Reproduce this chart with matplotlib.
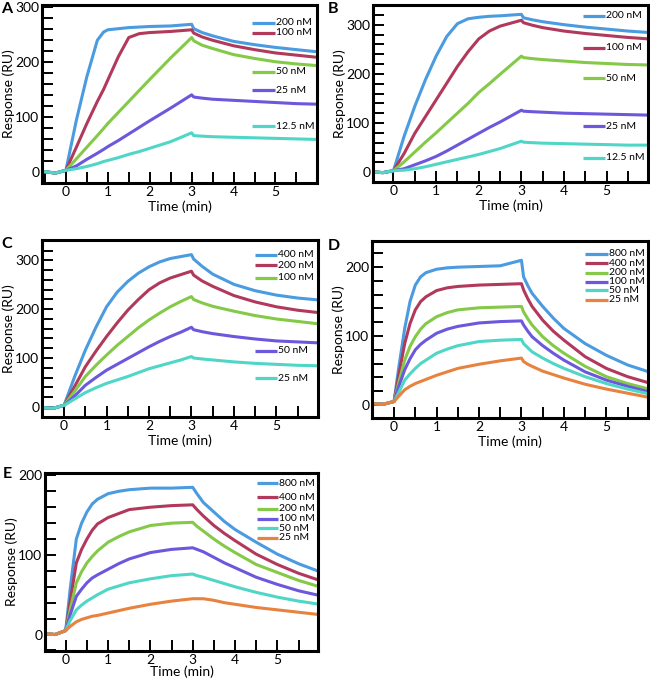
import matplotlib
matplotlib.use("Agg")
import matplotlib.pyplot as plt
from matplotlib.ticker import MultipleLocator, FixedLocator

plt.rcParams['font.family'] = ['Lato', 'DejaVu Sans']

# ---------------- colours ----------------
C_BLUE = '#4a9be0'
C_RED = '#b0395c'
C_GREEN = '#84c947'
C_PURPLE = '#6b58dc'
C_TEAL = '#4fd6c6'
C_ORANGE = '#e8823f'

# ---------------- Panel A ----------------
time_A = [-0.55, -0.25, 0, 0.25, 0.5, 0.75, 0.9, 1, 1.25, 1.5, 1.75, 2, 2.5, 3, 3.05, 3.25, 3.5, 4, 4.5, 5, 5.5, 6]
A_200 = [1, -2, 3, 94, 173, 239, 254, 258, 260, 262, 263, 264, 265, 268, 260, 253, 247, 237, 231, 226, 222, 218]
A_100 = [1, -2, 3, 45, 88, 128, 150, 167, 209, 244, 251, 253, 255, 258, 252, 245, 239, 229, 222, 216, 212, 208]
A_50 = [1, -2, 3, 24, 45, 66, 79, 88, 108, 128, 148, 168, 207, 244, 238, 230, 224, 213, 206, 200, 196, 193]
A_25 = [1, -2, 3, 11, 23, 34, 41, 46, 57, 69, 81, 93, 116, 140, 136, 134, 132, 130, 128, 126, 124, 123]
A_12 = [1, -2, 3, 6, 10, 15, 19, 21, 26, 32, 37, 43, 55, 71, 66, 65, 64, 63, 62, 61, 60, 59]
labels_A = ['200 nM', '100 nM', '50 nM', '25 nM', '12.5 nM']

# ---------------- Panel B ----------------
time_B = [-0.5, -0.25, 0, 0.25, 0.5, 0.75, 1, 1.25, 1.5, 1.75, 2, 2.25, 2.5, 3, 3.05, 3.25, 3.5, 4, 4.5, 5, 5.5, 6]
B_200 = [1, -1, 3, 73, 134, 188, 236, 276, 302, 312, 315, 317, 318, 321, 314, 310, 306, 300, 295, 291, 287, 284]
B_100 = [1, -1, 3, 38, 79, 113, 147, 181, 215, 245, 271, 287, 297, 309, 304, 299, 294, 287, 282, 278, 274, 271]
B_50 = [1, -1, 3, 21, 41, 61, 80, 100, 120, 140, 162, 180, 199, 236, 233, 231, 229, 226, 223, 221, 219, 218]
B_25 = [1, -1, 3, 7, 15, 23, 32, 43, 55, 67, 79, 91, 102, 126, 124, 123, 122, 120, 119, 118, 117, 116]
B_12 = [1, -1, 3, 4, 7, 11, 16, 21, 26, 31, 36, 42, 48, 63, 61, 60, 59, 58, 57, 56, 55, 55]
labels_B = ['200 nM', '100 nM', '50 nM', '25 nM', '12.5 nM']

# ---------------- Panel C ----------------
time_C = [-0.52, -0.25, 0, 0.25, 0.5, 0.75, 1, 1.25, 1.5, 1.75, 2, 2.25, 2.5, 2.75, 3, 3.05, 3.25, 3.5, 4, 4.5, 5, 5.5, 6]
C_400 = [-2, -3, 3, 62, 116, 163, 205, 235, 257, 274, 287, 297, 304, 308, 312, 303, 288, 272, 251, 238, 229, 223, 219]
C_200 = [-2, -3, 3, 42, 82, 114, 144, 172, 198, 220, 240, 254, 264, 271, 278, 270, 258, 247, 228, 215, 205, 198, 193]
C_100 = [-2, -3, 3, 32, 62, 85, 106, 126, 144, 162, 178, 192, 205, 216, 226, 220, 213, 206, 196, 187, 180, 175, 170]
C_50 = [-2, -3, 3, 22, 44, 60, 75, 87, 99, 111, 123, 134, 144, 153, 163, 158, 154, 150, 144, 139, 135, 133, 131]
C_25 = [-2, -3, 3, 16, 29, 39, 48, 55, 62, 70, 78, 84, 90, 96, 103, 100, 98, 96, 92, 89, 87, 85, 84]
labels_C = ['400 nM', '200 nM', '100 nM', '50 nM', '25 nM']

# ---------------- Panel D ----------------
time_D = [-0.52, -0.25, 0, 0.1, 0.25, 0.375, 0.5, 0.625, 0.75, 1, 1.25, 1.5, 2, 2.5, 3,
          3.05, 3.15, 3.25, 3.5, 3.75, 4, 4.5, 5, 5.5, 6]
D_800 = [2, 1, 5, 50, 111, 150, 174, 186, 192, 197, 199, 200, 201, 202, 210,
         186, 173, 162, 143, 126, 111, 89, 72, 58, 48]
D_400 = [2, 1, 5, 40, 89, 118, 138, 150, 157, 166, 170, 172, 174, 175, 176,
         167, 154, 143, 123, 107, 94, 70, 53, 41, 32]
D_200 = [2, 1, 5, 30, 65, 85, 99, 110, 118, 128, 134, 138, 141, 142, 143,
         135, 125, 116, 99, 86, 75, 56, 41, 31, 23]
D_100 = [2, 1, 5, 25, 51, 67, 80, 88, 94, 104, 110, 114, 119, 121, 122,
         116, 107, 99, 86, 75, 65, 48, 36, 27, 19]
D_50 = [2, 1, 5, 17, 36, 45, 53, 60, 65, 75, 81, 86, 92, 94, 95,
        89, 83, 77, 68, 60, 53, 41, 31, 23, 16]
D_25 = [2, 1, 5, 12, 22, 27, 31, 34, 37, 43, 48, 53, 59, 64, 68,
        63, 59, 56, 49, 44, 39, 30, 23, 17, 11]
labels_D = ['800 nM', '400 nM', '200 nM', '100 nM', '50 nM', '25 nM']

# ---------------- Panel E ----------------
time_E = [-0.5, -0.25, 0, 0.1, 0.25, 0.375, 0.5, 0.625, 0.75, 1, 1.25, 1.5, 2, 2.5, 3,
          3.1, 3.25, 3.5, 3.75, 4, 4.5, 5, 5.5, 6]
E_800 = [1, 0, 5, 55, 120, 140, 154, 164, 170, 177, 180, 182, 184, 184, 185,
         177, 166, 154, 142, 132, 116, 101, 89, 79]
E_400 = [1, 0, 5, 40, 90, 107, 120, 131, 139, 147, 152, 157, 160, 162, 163,
         157, 149, 137, 127, 118, 101, 88, 77, 68]
E_200 = [1, 0, 5, 30, 65, 79, 90, 98, 105, 116, 123, 129, 137, 140, 141,
         136, 130, 120, 111, 103, 88, 78, 68, 60]
E_100 = [1, 0, 5, 24, 48, 57, 65, 71, 75, 82, 89, 95, 103, 107, 109,
         107, 104, 97, 90, 84, 72, 63, 55, 49]
E_50 = [1, 0, 5, 17, 31, 37, 42, 46, 50, 57, 61, 65, 70, 74, 76,
        74, 72, 68, 64, 60, 53, 47, 42, 38]
E_25 = [1, 0, 5, 10, 16, 19, 21, 23, 24, 27, 30, 33, 38, 42, 45,
        45, 45, 43, 40, 38, 34, 31, 28, 25]
labels_E = ['800 nM', '400 nM', '200 nM', '100 nM', '50 nM', '25 nM']

W, H = 650, 684
fig = plt.figure(figsize=(W / 100, H / 100), dpi=100)


def px_axes(left, top, right, bottom):
    return fig.add_axes([left / W, 1 - bottom / H, (right - left) / W, (bottom - top) / H])


def style(ax, xlim, ylim, xlabpad=2):
    ax.set_xlim(*xlim)
    ax.set_ylim(*ylim)
    ax.xaxis.set_major_locator(FixedLocator([0, 1, 2, 3, 4, 5]))
    ax.xaxis.set_minor_locator(MultipleLocator(0.5))
    ax.yaxis.set_major_locator(MultipleLocator(100))
    ax.yaxis.set_minor_locator(MultipleLocator(20))
    ax.tick_params(which='both', direction='in', length=8, width=1.4, top=False, right=False,
                   labelsize=10, pad=2)
    for s in ax.spines.values():
        s.set_linewidth(2.2)
    ax.set_xlabel('Time (min)', fontsize=10, labelpad=xlabpad)
    ax.set_ylabel('Response (RU)', fontsize=10, labelpad=0)


def legend(ax, labels, colors, ys, x0, x1, xt, fs=7.5):
    for lab, col, y in zip(labels, colors, ys):
        ax.plot([x0, x1], [y, y], color=col, lw=2.3, transform=ax.transAxes, solid_capstyle='butt')
        ax.text(xt, y, lab, transform=ax.transAxes, fontsize=fs, va='center', ha='left')


LW = 2.2

# Panel A
axA = px_axes(42, 5, 317, 183)
colsA = [C_BLUE, C_RED, C_GREEN, C_PURPLE, C_TEAL]
for ys, c in zip([A_200, A_100, A_50, A_25, A_12], colsA):
    axA.plot(time_A, ys, color=c, lw=LW)
style(axA, (-0.57, 5.99), (-20, 303))
legend(axA, labels_A, colsA, [0.90, 0.843, 0.624, 0.522, 0.32], 0.764, 0.847, 0.851)

# Panel B
axB = px_axes(373, 5, 648, 182)
for ys, c in zip([B_200, B_100, B_50, B_25, B_12], colsA):
    axB.plot(time_B, ys, color=c, lw=LW)
style(axB, (-0.48, 5.97), (-20, 340))
legend(axB, labels_B, colsA, [0.94, 0.759, 0.586, 0.316, 0.137], 0.764, 0.844, 0.849)

# Panel C
axC = px_axes(42, 240, 318, 417)
for ys, c in zip([C_400, C_200, C_100, C_50, C_25], colsA):
    axC.plot(time_C, ys, color=c, lw=LW)
style(axC, (-0.52, 5.98), (-21, 342))
legend(axC, labels_C, colsA, [0.918, 0.856, 0.787, 0.373, 0.22], 0.77, 0.853, 0.856)

# Panel D
colsD = [C_BLUE, C_RED, C_GREEN, C_PURPLE, C_TEAL, C_ORANGE]
axD = px_axes(372, 241, 648, 418)
for ys, c in zip([D_800, D_400, D_200, D_100, D_50, D_25], colsD):
    axD.plot(time_D, ys, color=c, lw=LW)
style(axD, (-0.52, 5.98), (-19, 238))
legend(axD, labels_D, colsD, [0.929, 0.873, 0.822, 0.771, 0.722, 0.669], 0.773, 0.856, 0.859)

# Panel E
axE = px_axes(45, 473, 318, 651)
for ys, c in zip([E_800, E_400, E_200, E_100, E_50, E_25], colsD):
    axE.plot(time_E, ys, color=c, lw=LW)
style(axE, (-0.49, 5.96), (-20.7, 203), xlabpad=0)
legend(axE, labels_E, colsD, [0.943, 0.864, 0.798, 0.743, 0.691, 0.636], 0.776, 0.853, 0.856)

# panel letters
for lab, x, y in [('A', 7, 9), ('B', 333, 9), ('C', 7, 244), ('D', 334, 246), ('E', 7, 474)]:
    fig.text(x / W, 1 - y / H, lab, fontsize=11.5, fontweight='bold', ha='center', va='center')

fig.savefig('out.png', dpi=100)
